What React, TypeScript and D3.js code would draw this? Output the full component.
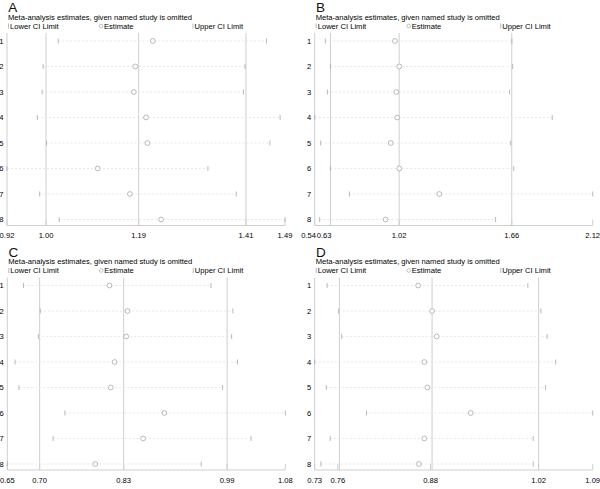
import React from "react";
import * as d3 from "d3";

const studies = ["1", "2", "3", "4", "5", "6", "7", "8"];
const panelNames = ["A", "B", "C", "D"];
const subtitle = "Meta-analysis estimates, given named study is omitted";
const legendLabels = ["Lower CI Limit", "Estimate", "Upper CI Limit"];

const aLower = [1.025, 0.994, 0.992, 0.982, 1.001, 0.92, 0.987, 1.027];
const aEst = [1.219, 1.183, 1.18, 1.205, 1.208, 1.106, 1.172, 1.236];
const aUpper = [1.452, 1.408, 1.405, 1.48, 1.459, 1.332, 1.39, 1.49];
const aTicks = [0.92, 1.0, 1.19, 1.41, 1.49];
const aRefs = [1.0, 1.19, 1.41];

const bLower = [0.6, 0.629, 0.612, 0.54, 0.574, 0.629, 0.737, 0.568];
const bEst = [0.996, 1.021, 1.004, 1.009, 0.972, 1.021, 1.248, 0.943];
const bUpper = [1.661, 1.665, 1.648, 1.89, 1.654, 1.671, 2.12, 1.568];
const bTicks = [0.54, 0.63, 1.02, 1.66, 2.12];
const bRefs = [0.63, 1.02, 1.66];

const cLower = [0.675, 0.701, 0.698, 0.662, 0.668, 0.739, 0.721, 0.65];
const cEst = [0.808, 0.836, 0.834, 0.816, 0.81, 0.893, 0.86, 0.786];
const cUpper = [0.965, 0.999, 0.997, 1.006, 0.983, 1.08, 1.027, 0.95];
const cTicks = [0.65, 0.7, 0.83, 0.99, 1.08];
const cRefs = [0.7, 0.83, 0.99];

const dLower = [0.746, 0.761, 0.765, 0.73, 0.745, 0.797, 0.75, 0.738];
const dEst = [0.864, 0.882, 0.888, 0.872, 0.876, 0.932, 0.872, 0.865];
const dUpper = [1.006, 1.023, 1.031, 1.042, 1.029, 1.09, 1.013, 1.013];
const dTicks = [0.73, 0.76, 0.88, 1.02, 1.09];
const dRefs = [0.762, 0.882, 1.02];

const FONT = "'Liberation Sans', Arial, sans-serif";

type PanelProps = {
  name: string;
  ox: number;
  oy: number;
  left: number;
  lower: number[];
  est: number[];
  upper: number[];
  ticks: number[];
  refs: number[];
};

function Panel({ name, ox, oy, left, lower, est, upper, ticks, refs }: PanelProps) {
  const x = d3
    .scaleLinear()
    .domain([ticks[0], ticks[ticks.length - 1]])
    .range([left, left + 278]);
  const y = d3.scalePoint<string>().domain(studies).range([41, 219.5]);
  const axisY = 225.5;
  const topY = 33;
  const grid = "#cfcfcf";
  const mark = "#a8a8a8";
  const fs = 7.6;
  const crowded = x(ticks[1]) - x(ticks[0]) < 20;
  return (
    <g transform={`translate(${ox},${oy})`} fontFamily={FONT}>
      <text x={left + 1.2} y={12.4} fontSize={13.5} fill="#111">
        {name}
      </text>
      <text x={left + 1} y={19.8} fontSize={fs} fill="#000">
        {subtitle}
      </text>
      {/* legend */}
      <line x1={left + 1.5} x2={left + 1.5} y1={23.5} y2={28.5} stroke={mark} strokeWidth={0.8} />
      <text x={left + 3} y={28.7} fontSize={fs} fill="#000">
        {legendLabels[0]}
      </text>
      <circle cx={left + 94} cy={26} r={1.8} fill="none" stroke={mark} strokeWidth={0.7} />
      <text x={left + 97} y={28.7} fontSize={fs} fill="#000">
        {legendLabels[1]}
      </text>
      <line x1={left + 186} x2={left + 186} y1={23.5} y2={28.5} stroke={mark} strokeWidth={0.8} />
      <text x={left + 187.5} y={28.7} fontSize={fs} fill="#000">
        {legendLabels[2]}
      </text>
      {/* frame */}
      <line x1={left} x2={left} y1={topY} y2={axisY} stroke={grid} strokeWidth={1} />
      {refs.map((r, i) => (
        <line key={"r" + i} x1={x(r)} x2={x(r)} y1={topY} y2={axisY} stroke={grid} strokeWidth={1} />
      ))}
      <line x1={left} x2={left + 278} y1={axisY} y2={axisY} stroke={grid} strokeWidth={1} />
      {ticks.map((t, i) => {
        let lx = x(t);
        let anchor: "middle" | "end" | "start" = "middle";
        if (crowded && i === 0) {
          lx = x(t) + 1.3;
          anchor = "end";
        }
        if (crowded && i === 1) {
          lx = (x(ticks[0]) + 2);
          anchor = "start";
        }
        return (
          <g key={"t" + i}>
            <line x1={x(t)} x2={x(t)} y1={axisY - 6} y2={axisY} stroke={grid} strokeWidth={1} />
            <text x={lx} y={238} fontSize={fs} textAnchor={anchor} fill="#000">
              {t.toFixed(2)}
            </text>
          </g>
        );
      })}
      {studies.map((s, i) => {
        const yy = y(s) as number;
        return (
          <g key={"s" + i}>
            <text x={left - 3.5} y={yy + 2.7} fontSize={fs} textAnchor="end" fill="#000">
              {s}
            </text>
            <line
              x1={x(lower[i])}
              x2={x(upper[i])}
              y1={yy}
              y2={yy}
              stroke="#e2e2e2"
              strokeWidth={0.8}
              strokeDasharray="2,2"
            />
            <line x1={x(lower[i])} x2={x(lower[i])} y1={yy - 2.5} y2={yy + 2.5} stroke={mark} strokeWidth={0.8} />
            <line x1={x(upper[i])} x2={x(upper[i])} y1={yy - 2.5} y2={yy + 2.5} stroke={mark} strokeWidth={0.8} />
            <circle cx={x(est[i])} cy={yy} r={2.4} fill="white" stroke={mark} strokeWidth={0.8} />
          </g>
        );
      })}
    </g>
  );
}

export default function App() {
  return (
    <svg
      width={600}
      height={489}
      style={{ position: "absolute", left: 0, top: 0, background: "white" }}
    >
      <rect width={600} height={489} fill="white" />
      <Panel name={panelNames[0]} ox={0} oy={0} left={7} lower={aLower} est={aEst} upper={aUpper} ticks={aTicks} refs={aRefs} />
      <Panel name={panelNames[1]} ox={300} oy={0} left={14.7} lower={bLower} est={bEst} upper={bUpper} ticks={bTicks} refs={bRefs} />
      <Panel name={panelNames[2]} ox={0} oy={244.5} left={7.3} lower={cLower} est={cEst} upper={cUpper} ticks={cTicks} refs={cRefs} />
      <Panel name={panelNames[3]} ox={300} oy={244.5} left={14.7} lower={dLower} est={dEst} upper={dUpper} ticks={dTicks} refs={dRefs} />
    </svg>
  );
}
